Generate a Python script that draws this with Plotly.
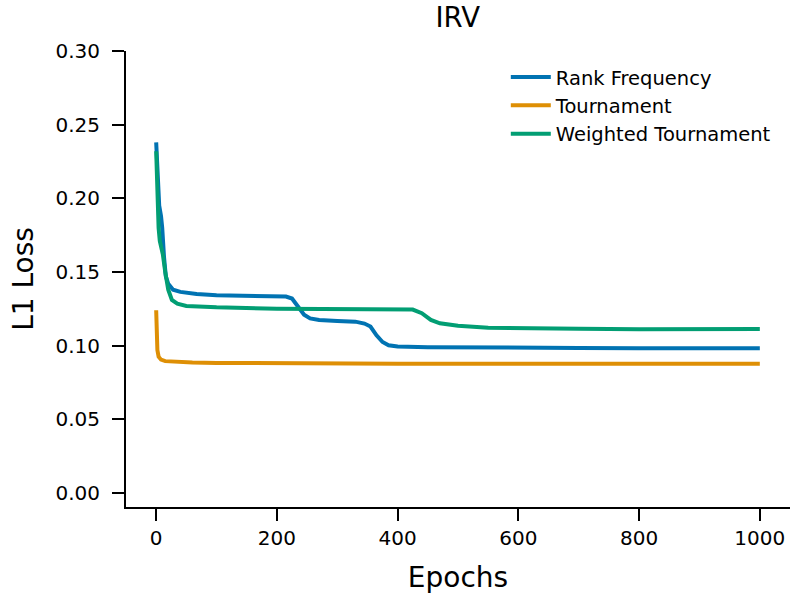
import plotly.graph_objects as go

rank_epochs = [0, 2, 5, 8, 10, 13, 16, 20, 28, 40, 67, 100, 150, 200, 215, 225, 235, 245, 255, 270, 300, 330, 345, 355, 365, 375, 385, 400, 450, 500, 600, 700, 800, 900, 1000]
rank_loss = [0.238, 0.215, 0.195, 0.188, 0.180, 0.160, 0.147, 0.142, 0.138, 0.1365, 0.135, 0.1343, 0.1338, 0.1335, 0.1333, 0.132, 0.127, 0.121, 0.1185, 0.1175, 0.1168, 0.1163, 0.115, 0.113, 0.107, 0.1025, 0.1003, 0.0995, 0.0990, 0.0988, 0.0985, 0.0984, 0.0983, 0.0982, 0.0983]

tour_epochs = [0, 1, 2, 4, 8, 15, 30, 60, 100, 200, 400, 600, 800, 1000]
tour_loss = [0.124, 0.105, 0.097, 0.0925, 0.0905, 0.0895, 0.089, 0.0886, 0.0883, 0.0880, 0.0878, 0.0878, 0.0878, 0.0878]

wt_epochs = [0, 2, 4, 6, 8, 11, 15, 20, 26, 35, 50, 67, 100, 200, 300, 400, 425, 440, 455, 470, 500, 550, 600, 700, 800, 900, 970, 1000]
wt_loss = [0.232, 0.200, 0.180, 0.171, 0.168, 0.162, 0.150, 0.138, 0.131, 0.1285, 0.127, 0.1265, 0.126, 0.125, 0.1248, 0.1248, 0.1245, 0.122, 0.1175, 0.1152, 0.1135, 0.1122, 0.1118, 0.1115, 0.1112, 0.1110, 0.1107, 0.1113]

y_ticks = [0.0, 0.05, 0.10, 0.15, 0.20, 0.25, 0.30]
x_ticks = [0, 200, 400, 600, 800, 1000]

fig = go.Figure()
fig.add_trace(go.Scatter(x=rank_epochs, y=rank_loss, mode="lines", name="Rank Frequency",
                         line=dict(color="#0173b2", width=4)))
fig.add_trace(go.Scatter(x=tour_epochs, y=tour_loss, mode="lines", name="Tournament",
                         line=dict(color="#de8f05", width=4)))
fig.add_trace(go.Scatter(x=wt_epochs, y=wt_loss, mode="lines", name="Weighted Tournament",
                         line=dict(color="#029e73", width=4)))

font = "DejaVu Sans"
fig.update_layout(
    width=792, height=603,
    margin=dict(l=126, r=2, t=51, b=96),
    paper_bgcolor="white", plot_bgcolor="white",
    font=dict(family=font, size=20, color="black"),
    title=dict(text="IRV", x=0.578, xanchor="center", y=0.972, yanchor="middle",
               font=dict(family=font, size=27.5)),
    legend=dict(x=0.572, y=0.985, xanchor="left", yanchor="top",
                bgcolor="rgba(0,0,0,0)", font=dict(family=font, size=19.5),
                itemwidth=40, tracegroupgap=0),
    showlegend=True,
)
fig.update_xaxes(range=[-50, 1050], tickvals=x_ticks, showline=True, linecolor="black",
                 linewidth=2, ticks="outside", ticklen=12, tickwidth=2, tickcolor="black",
                 showgrid=False, zeroline=False,
                 tickfont=dict(family=font, size=20),
                 title=dict(text="Epochs", font=dict(family=font, size=28), standoff=18))
fig.update_yaxes(range=[-0.0095, 0.30], tickvals=y_ticks, tickformat=".2f", showline=True,
                 linecolor="black", linewidth=2, ticks="outside", ticklen=12, tickwidth=2,
                 tickcolor="black", showgrid=False, zeroline=False,
                 tickfont=dict(family=font, size=20), ticklabelstandoff=8,
                 title=dict(text="L1 Loss", font=dict(family=font, size=28), standoff=14))

fig.write_html("out.html")
